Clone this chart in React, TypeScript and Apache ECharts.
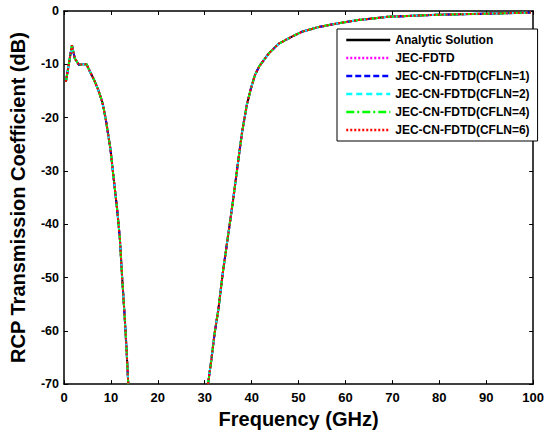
import React, { useEffect, useRef } from "react";
import * as echarts from "echarts";

const freqGHz: (number | null)[] = [
  0.4, 1.7, 2.3, 3.2, 4.0, 4.8, 5.5, 6.4, 7.3, 8.2, 8.9, 9.9, 10.6, 11.3, 11.9, 12.4, 12.9, 13.3, 13.7,
  null,
  30.7, 31.4, 32.1, 32.9, 33.9, 34.9, 35.9, 37.0, 38.0, 39.0, 39.8, 40.7, 41.6, 43.7, 45.8, 48.6, 50.7,
  54.3, 58.5, 62.7, 69.0, 79.6, 90.0, 99.5,
];
const rcpDb: (number | null)[] = [
  -13.3, -6.4, -8.9, -10.1, -10.0, -10.0, -11.3, -12.9, -14.8, -17.2, -20.3, -25.9, -31.5, -37.0, -42.6,
  -50.1, -56.9, -63.0, -70.0,
  null,
  -70.0, -65.5, -60.5, -56.0, -48.8, -42.6, -36.4, -29.0, -22.5, -17.5, -14.7, -12.0, -10.4, -7.9, -6.1,
  -4.8, -3.9, -3.0, -2.3, -1.7, -1.1, -0.7, -0.5, -0.3,
];

const seriesNames = [
  "Analytic Solution",
  "JEC-FDTD",
  "JEC-CN-FDTD(CFLN=1)",
  "JEC-CN-FDTD(CFLN=2)",
  "JEC-CN-FDTD(CFLN=4)",
  "JEC-CN-FDTD(CFLN=6)",
];
const seriesColors = ["#000000", "#ff00ff", "#0000ff", "#00ffff", "#00ff00", "#ff0000"];
const seriesDash: any[] = ["solid", [2, 2], [6, 3], [6, 4], [8, 3, 2, 3], [2, 2]];

const xTicks = { min: 0, max: 100, interval: 10 };
const yTicks = { min: -70, max: 0, interval: 10 };

const FONT = 'Arial, "Liberation Sans", sans-serif';

export default function App() {
  const ref = useRef<HTMLDivElement>(null);
  useEffect(() => {
    if (!ref.current) return;
    const chart = echarts.init(ref.current, undefined, { renderer: "svg" });
    const data = freqGHz.map((f, i) => (f === null || rcpDb[i] === null ? [null, null] : [f, rcpDb[i]]));
    const tickStyle = { inside: true, length: 4, lineStyle: { color: "#000", width: 1 } };
    const lineAxis = { show: true, onZero: false, lineStyle: { color: "#000", width: 1.5 } };
    const option: any = {
      animation: false,
      backgroundColor: "#fff",
      grid: { left: 63, right: 10, top: 11, bottom: 47, containLabel: false },
      legend: {
        orient: "vertical",
        left: 337,
        top: 29,
        data: seriesNames,
        itemWidth: 44,
        itemHeight: 14,
        itemGap: 6,
        itemTextGap: 5,
        padding: [5, 8, 5, 8],
        borderColor: "#000",
        borderWidth: 1,
        borderRadius: 0,
        backgroundColor: "#fff",
        itemStyle: { opacity: 0 },
        lineStyle: { width: 2.5 },
        textStyle: { fontFamily: FONT, fontWeight: "bold", fontSize: 12, color: "#000" },
      },
      xAxis: [
        {
          type: "value",
          ...xTicks,
          name: "Frequency (GHz)",
          nameLocation: "middle",
          nameGap: 24,
          nameTextStyle: { fontFamily: FONT, fontWeight: "bold", fontSize: 20, color: "#000" },
          axisLine: lineAxis,
          axisTick: tickStyle,
          axisLabel: { margin: 7, fontFamily: FONT, fontWeight: "bold", fontSize: 13, color: "#000" },
          splitLine: { show: false },
        },
        {
          type: "value",
          position: "top",
          ...xTicks,
          axisLine: lineAxis,
          axisTick: tickStyle,
          axisLabel: { show: false },
          splitLine: { show: false },
        },
      ],
      yAxis: [
        {
          type: "value",
          ...yTicks,
          name: "RCP Transmission Coefficient (dB)",
          nameLocation: "middle",
          nameGap: 36,
          nameTextStyle: { fontFamily: FONT, fontWeight: "bold", fontSize: 20, color: "#000" },
          axisLine: lineAxis,
          axisTick: tickStyle,
          axisLabel: { margin: 5, fontFamily: FONT, fontWeight: "bold", fontSize: 12.5, color: "#000" },
          splitLine: { show: false },
        },
        {
          type: "value",
          position: "right",
          ...yTicks,
          axisLine: lineAxis,
          axisTick: tickStyle,
          axisLabel: { show: false },
          splitLine: { show: false },
        },
      ],
      series: seriesNames.map((name, i) => ({
        name,
        type: "line",
        data,
        symbol: "none",
        connectNulls: false,
        clip: true,
        color: seriesColors[i],
        lineStyle: { color: seriesColors[i], width: 2, type: seriesDash[i] },
      })),
    };
    chart.setOption(option);
    return () => chart.dispose();
  }, []);
  return (
    <div
      ref={ref}
      style={{ position: "fixed", left: 0, top: 0, width: 547, height: 434, background: "#fff" }}
    />
  );
}
